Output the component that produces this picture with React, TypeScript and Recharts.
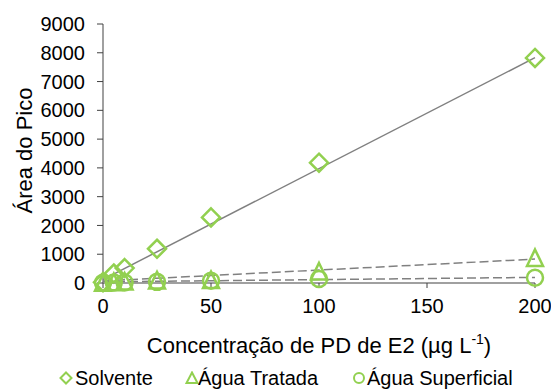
import { ComposedChart, Line, Scatter, XAxis, YAxis } from "recharts";

const concentrations = [0, 5, 10, 25, 50, 100, 200];
const solvente = [30, 330, 520, 1190, 2280, 4180, 7820];
const aguaTratada = [10, 30, 50, 90, 100, 400, 870];
const aguaSuperficial = [10, 15, 20, 40, 80, 140, 185];

const trendX = [0, 200];
const trendSolvente = [120, 7830];
const trendTratada = [70, 830];
const trendSuperficial = [40, 195];

const xTicks = [0, 50, 100, 150, 200];
const yTicks = [0, 1000, 2000, 3000, 4000, 5000, 6000, 7000, 8000, 9000];

const GREEN = "#92D050";
const GRAY = "#808080";
const TICK_GRAY = "#404040";
const FONT = "'Liberation Sans', Arial, sans-serif";

const toPoints = (ys: number[]) => concentrations.map((x, i) => ({ x, y: ys[i] }));
const toTrend = (ys: number[]) => trendX.map((x, i) => ({ x, y: ys[i] }));

type ShapeProps = { cx?: number; cy?: number };

function Diamond({ cx = 0, cy = 0 }: ShapeProps) {
  const r = 9;
  return (
    <path
      d={`M${cx},${cy - r}L${cx + r},${cy}L${cx},${cy + r}L${cx - r},${cy}Z`}
      fill="none"
      stroke={GREEN}
      strokeWidth={2.5}
    />
  );
}

function Triangle({ cx = 0, cy = 0 }: ShapeProps) {
  return (
    <path
      d={`M${cx},${cy - 8.5}L${cx + 8},${cy + 8}L${cx - 8},${cy + 8}Z`}
      fill="none"
      stroke={GREEN}
      strokeWidth={2.5}
    />
  );
}

function Circle({ cx = 0, cy = 0 }: ShapeProps) {
  return <circle cx={cx} cy={cy} r={8} fill="none" stroke={GREEN} strokeWidth={2.5} />;
}

function XTitle({ viewBox }: any) {
  const { x, width } = viewBox;
  return (
    <text x={x + width / 2} y={353} textAnchor="middle" fontSize={22} fontFamily={FONT} fill="#000">
      Concentração de PD de E2 (µg L
      <tspan dy={-9} fontSize={14}>-1</tspan>
      <tspan dy={9}>)</tspan>
    </text>
  );
}

function YTitle({ viewBox }: any) {
  const { y, height } = viewBox;
  const cy = y + height / 2 - 3;
  return (
    <text
      x={32}
      y={cy}
      transform={`rotate(-90, 32, ${cy})`}
      textAnchor="middle"
      fontSize={22}
      fontFamily={FONT}
      fill="#000"
    >
      Área do Pico
    </text>
  );
}

function LegendRow() {
  const item = (marker: React.ReactNode, label: string, markerX: number, textX: number) => (
    <>
      <svg width={14} height={14} style={{ position: "absolute", left: markerX - 7, top: 3 }}>
        {marker}
      </svg>
      <span style={{ position: "absolute", left: textX, top: 0, whiteSpace: "nowrap" }}>{label}</span>
    </>
  );
  return (
    <div
      style={{
        position: "absolute",
        left: 0,
        top: 368,
        width: 551,
        height: 20,
        lineHeight: "20px",
        fontFamily: FONT,
        fontSize: 20,
        color: "#000",
      }}
    >
      {item(<path d="M7,1.5L12.5,7L7,12.5L1.5,7Z" fill="none" stroke={GREEN} strokeWidth={2} />, "Solvente", 66, 75)}
      {item(<path d="M7,1.5L12.5,12L1.5,12Z" fill="none" stroke={GREEN} strokeWidth={2} />, "Água Tratada", 192, 198)}
      {item(<circle cx={7} cy={7} r={5} fill="none" stroke={GREEN} strokeWidth={2} />, "Água Superficial", 359, 367)}
    </div>
  );
}

export default function App() {
  const tick = { fill: "#000", fontSize: 20, fontFamily: FONT };
  return (
    <div style={{ position: "absolute", left: 0, top: 0, width: 551, height: 392, background: "#fff" }}>
      <ComposedChart width={551} height={392} margin={{ top: 24, right: 16, left: 0, bottom: 0 }}>
        <XAxis
          type="number"
          dataKey="x"
          domain={[0, 200]}
          ticks={xTicks}
          height={109}
          tick={tick}
          tickSize={5}
          tickMargin={11}
          axisLine={{ stroke: GRAY, strokeWidth: 1.5 }}
          tickLine={{ stroke: TICK_GRAY }}
          label={<XTitle />}
        />
        <YAxis
          type="number"
          dataKey="y"
          domain={[0, 9000]}
          ticks={yTicks}
          width={103}
          tick={tick}
          tickSize={6}
          tickMargin={12}
          axisLine={{ stroke: GRAY, strokeWidth: 1.5 }}
          tickLine={{ stroke: TICK_GRAY }}
          label={<YTitle />}
        />
        <Line data={toTrend(trendSolvente)} dataKey="y" stroke={GRAY} strokeWidth={1.5} dot={false} isAnimationActive={false} />
        <Line data={toTrend(trendTratada)} dataKey="y" stroke={GRAY} strokeWidth={1.5} strokeDasharray="9 4" dot={false} isAnimationActive={false} />
        <Line data={toTrend(trendSuperficial)} dataKey="y" stroke={GRAY} strokeWidth={1.5} strokeDasharray="9 4" dot={false} isAnimationActive={false} />
        <Scatter name="Solvente" data={toPoints(solvente)} shape={<Diamond />} isAnimationActive={false} />
        <Scatter name="Água Tratada" data={toPoints(aguaTratada)} shape={<Triangle />} isAnimationActive={false} />
        <Scatter name="Água Superficial" data={toPoints(aguaSuperficial)} shape={<Circle />} isAnimationActive={false} />
      </ComposedChart>
      <LegendRow />
    </div>
  );
}
